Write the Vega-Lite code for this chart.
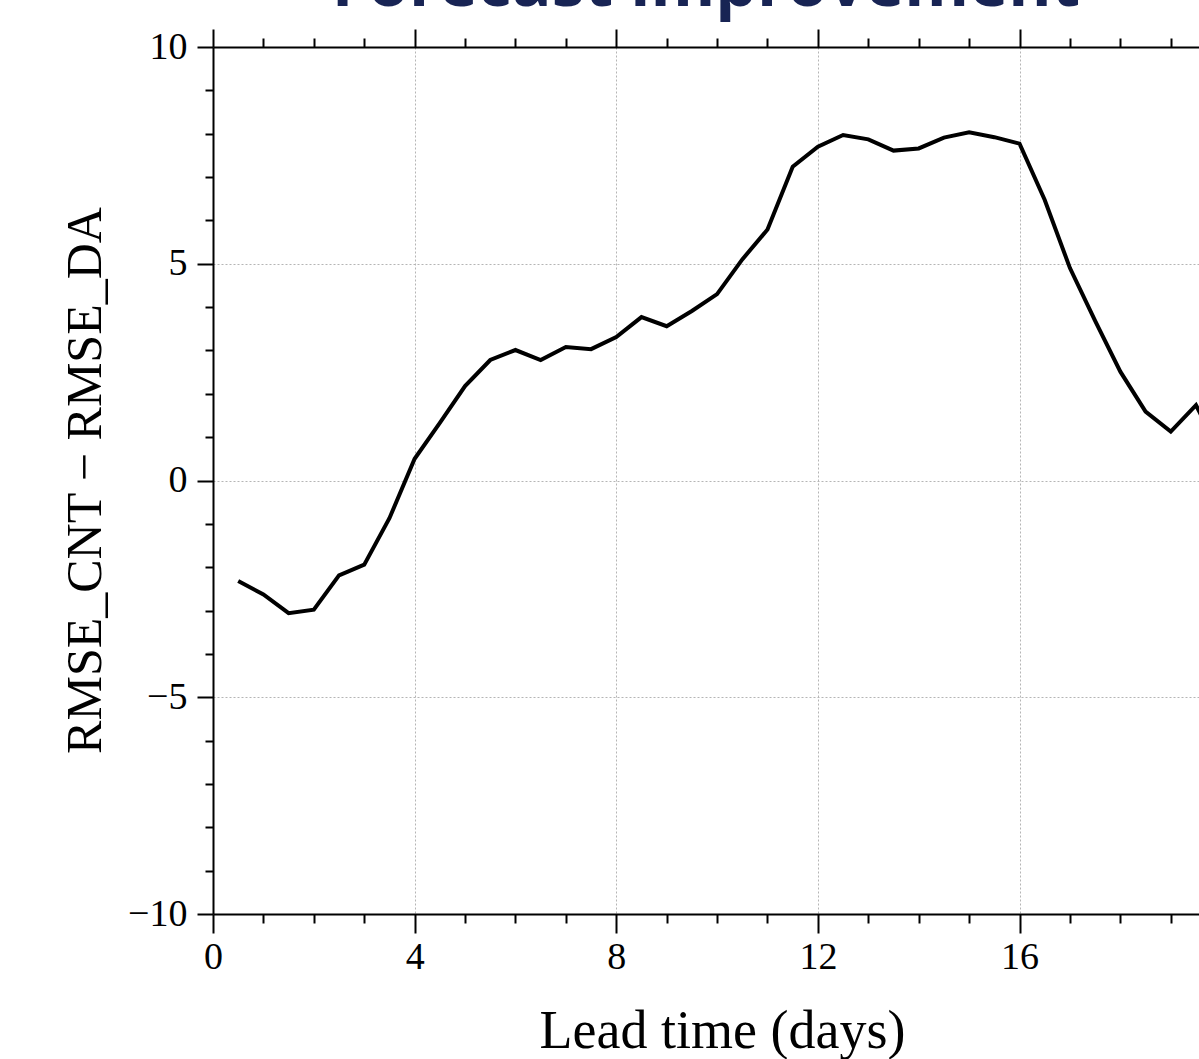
{
  "$schema": "https://vega.github.io/schema/vega-lite/v6.json",
  "autosize": {"type": "none"},
  "width": 986,
  "height": 867,
  "padding": {"left": 213, "top": 47, "right": 0, "bottom": 145},
  "background": "white",
  "title": {
    "text": "Forecast improvement",
    "anchor": "middle",
    "baseline": "alphabetic",
    "offset": 0,
    "dy": 44,
    "font": "Open Sans",
    "fontWeight": 700,
    "fontSize": 66,
    "color": "#182454"
  },
  "config": {
    "view": {"stroke": null},
    "font": "Liberation Serif"
  },
  "data": {
    "values": [
      {"day": 0.5, "diff": -2.32},
      {"day": 1.0, "diff": -2.63},
      {"day": 1.5, "diff": -3.06},
      {"day": 2.0, "diff": -2.98},
      {"day": 2.5, "diff": -2.19},
      {"day": 3.0, "diff": -1.94},
      {"day": 3.5, "diff": -0.87},
      {"day": 4.0, "diff": 0.5},
      {"day": 4.5, "diff": 1.33},
      {"day": 5.0, "diff": 2.18},
      {"day": 5.5, "diff": 2.78},
      {"day": 6.0, "diff": 3.01},
      {"day": 6.5, "diff": 2.78},
      {"day": 7.0, "diff": 3.08},
      {"day": 7.5, "diff": 3.03},
      {"day": 8.0, "diff": 3.31},
      {"day": 8.5, "diff": 3.77},
      {"day": 9.0, "diff": 3.56},
      {"day": 9.5, "diff": 3.91},
      {"day": 10.0, "diff": 4.3},
      {"day": 10.5, "diff": 5.1},
      {"day": 11.0, "diff": 5.79},
      {"day": 11.5, "diff": 7.24},
      {"day": 12.0, "diff": 7.7},
      {"day": 12.5, "diff": 7.97},
      {"day": 13.0, "diff": 7.87},
      {"day": 13.5, "diff": 7.61},
      {"day": 14.0, "diff": 7.66},
      {"day": 14.5, "diff": 7.91},
      {"day": 15.0, "diff": 8.03},
      {"day": 15.5, "diff": 7.92},
      {"day": 16.0, "diff": 7.77},
      {"day": 16.5, "diff": 6.47},
      {"day": 17.0, "diff": 4.9},
      {"day": 17.5, "diff": 3.68},
      {"day": 18.0, "diff": 2.51},
      {"day": 18.5, "diff": 1.59},
      {"day": 19.0, "diff": 1.13},
      {"day": 19.5, "diff": 1.74},
      {"day": 20.0, "diff": 0.6}
    ]
  },
  "layer": [
    {
      "mark": {"type": "line", "color": "black", "strokeWidth": 4, "clip": true},
      "encoding": {
        "x": {
          "field": "day",
          "type": "quantitative",
          "scale": {"domain": [0, 19.56], "nice": false, "zero": false},
          "axis": {
            "orient": "bottom",
            "values": [0, 1, 2, 3, 4, 5, 6, 7, 8, 9, 10, 11, 12, 13, 14, 15, 16, 17, 18, 19],
            "labelExpr": "datum.value % 4 == 0 ? datum.label : ''",
            "labelFont": "Liberation Serif",
            "labelFontSize": 38,
            "labelColor": "black",
            "labelPadding": 5,
            "labelFlush": false,
            "labelOverlap": false,
            "tickSize": {"condition": {"test": "datum.value % 4 == 0", "value": 19}, "value": 9},
            "tickColor": "black",
            "tickWidth": 2,
            "domainColor": "black",
            "domainWidth": 2,
            "grid": true,
            "gridColor": "#b5b5b5",
            "gridDash": [2, 2],
            "gridWidth": 1,
            "gridOpacity": {"condition": {"test": "datum.value % 4 == 0 && datum.value > 0", "value": 1}, "value": 0},
            "title": "Lead time (days)",
            "titleFont": "Liberation Serif",
            "titleFontSize": 54,
            "titleFontWeight": "normal",
            "titleColor": "black",
            "titleBaseline": "alphabetic",
            "titleAlign": "center",
            "titleAnchor": "start",
            "titleX": 509,
            "titleY": 133
          }
        },
        "y": {
          "field": "diff",
          "type": "quantitative",
          "scale": {"domain": [-10, 10], "nice": false, "zero": false},
          "axis": {
            "orient": "left",
            "values": [-10, -9, -8, -7, -6, -5, -4, -3, -2, -1, 0, 1, 2, 3, 4, 5, 6, 7, 8, 9, 10],
            "labelExpr": "datum.value % 5 == 0 ? datum.label : ''",
            "labelFont": "Liberation Serif",
            "labelFontSize": 38,
            "labelColor": "black",
            "labelPadding": 10,
            "labelFlush": false,
            "labelOverlap": false,
            "tickSize": {"condition": {"test": "datum.value % 5 == 0", "value": 16}, "value": 8},
            "tickColor": "black",
            "tickWidth": 2,
            "domainColor": "black",
            "domainWidth": 2,
            "grid": true,
            "gridColor": "#b5b5b5",
            "gridDash": [2, 2],
            "gridWidth": 1,
            "gridOpacity": {"condition": {"test": "datum.value % 5 == 0 && abs(datum.value) < 10", "value": 1}, "value": 0},
            "title": "RMSE_CNT − RMSE_DA",
            "titleFont": "Liberation Serif",
            "titleFontSize": 50,
            "titleFontWeight": "normal",
            "titleColor": "black",
            "titleBaseline": "alphabetic",
            "titleAngle": -90,
            "titleAlign": "center",
            "titleAnchor": "start",
            "titleX": -113,
            "titleY": 433
          }
        }
      }
    },
    {
      "mark": {"type": "rule", "opacity": 0},
      "encoding": {
        "x": {
          "field": "day",
          "type": "quantitative",
          "axis": {
            "orient": "top",
            "values": [0, 1, 2, 3, 4, 5, 6, 7, 8, 9, 10, 11, 12, 13, 14, 15, 16, 17, 18, 19],
            "labels": false,
            "tickSize": {"condition": {"test": "datum.value % 4 == 0", "value": 18}, "value": 9},
            "tickColor": "black",
            "tickWidth": 2,
            "domainColor": "black",
            "domainWidth": 2,
            "grid": false,
            "title": null
          }
        }
      }
    }
  ],
  "resolve": {"axis": {"x": "independent"}}
}
